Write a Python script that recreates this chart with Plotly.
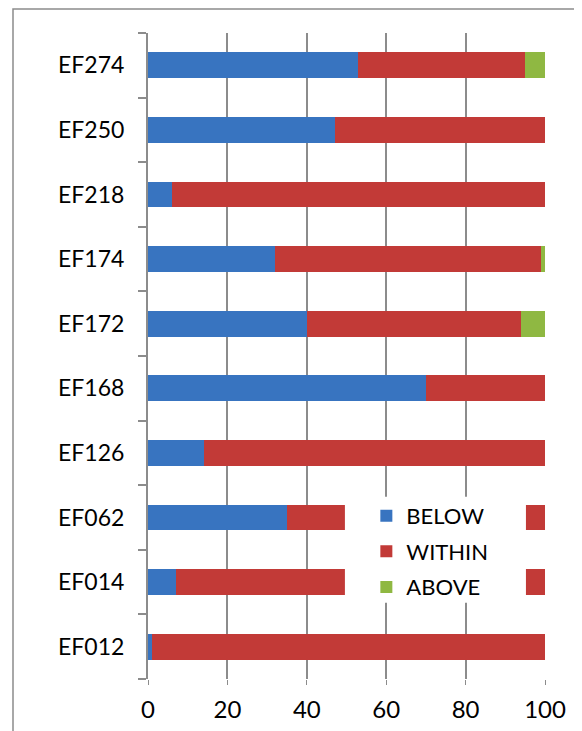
import plotly.graph_objects as go

cats = ["EF012", "EF014", "EF062", "EF126", "EF168", "EF172", "EF174", "EF218", "EF250", "EF274"]
below = [1, 7, 35, 14, 70, 40, 32, 6, 47, 53]
within = [99, 93, 65, 86, 30, 54, 67, 94, 53, 42]
above = [0, 0, 0, 0, 0, 6, 1, 0, 0, 5]
x_ticks = [0, 20, 40, 60, 80, 100]

font = "Lato, 'Open Sans', sans-serif"

fig = go.Figure()
for name, vals, col in [("BELOW", below, "#3874C0"),
                        ("WITHIN", within, "#C23A37"),
                        ("ABOVE", above, "#8FB842")]:
    fig.add_trace(go.Bar(y=cats, x=vals, name=name, orientation="h",
                         legendgroup=name,
                         marker=dict(color=col, line=dict(width=0))))

# page body adds 8px offset, margins compensate
fig.update_layout(
    barmode="stack",
    bargap=0.6,
    width=582, height=731,
    margin=dict(l=140, r=45, t=25, b=60),
    paper_bgcolor="white", plot_bgcolor="white",
    font=dict(family=font, color="black"),
    legend=dict(x=0.55, y=0.285, xanchor="left", yanchor="top",
                bgcolor="rgba(0,0,0,0)", traceorder="grouped",
                tracegroupgap=4,
                font=dict(size=22, family=font),
                itemwidth=30),
    shapes=[dict(type="rect", xref="paper", yref="paper",
                 x0=-135 / 397, x1=1.3, y0=-0.3, y1=1 + 24 / 646,
                 line=dict(color="#8C8C8C", width=1.5), layer="below"),
            # white box behind the legend
            dict(type="rect", xref="paper", yref="paper",
                 x0=0.496, x1=0.952, y0=0.118, y1=0.282,
                 fillcolor="white", line=dict(width=0), layer="above")],
)
fig.update_xaxes(range=[0, 100], tickvals=x_ticks, showgrid=True,
                 gridcolor="#8C8C8C", gridwidth=1.5, zeroline=False,
                 ticks="outside", ticklen=5, tickcolor="#8C8C8C",
                 showline=False, tickfont=dict(size=24), ticklabelstandoff=4)
fig.update_yaxes(categoryorder="array", categoryarray=cats,
                 tickson="boundaries", ticks="outside", ticklen=8,
                 tickcolor="#8C8C8C", tickwidth=1.5, showline=True,
                 linecolor="#8C8C8C", linewidth=2, showgrid=False,
                 tickfont=dict(size=23), ticklabelstandoff=17)

fig.write_html("out.html")
